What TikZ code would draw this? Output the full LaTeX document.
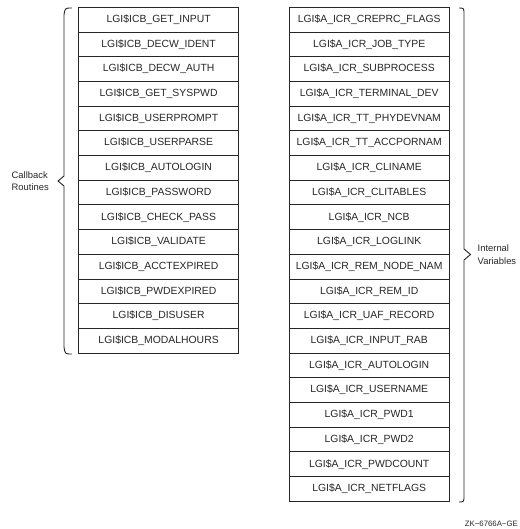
\documentclass[tikz,border=0pt]{standalone}
\usepackage{fontspec}
\setmainfont{Liberation Sans}
\usetikzlibrary{positioning}

\begin{document}
\begin{tikzpicture}[x=1pt, y=-1pt, node distance=0pt,
  font=\fontsize{10.4}{12.5}\selectfont, color=black!85,
  cell/.style={draw, line width=0.9pt, minimum width=160pt, minimum height=24.7pt,
    inner sep=0pt, outer sep=0pt, text=black!85},
  brace/.style={draw, line width=0.9pt, line join=miter},
  side/.style={align=left, inner sep=0pt, text=black!85, font=\fontsize{9.4}{12.5}\selectfont}]
  \useasboundingbox (0,0) rectangle (519,529);
  % callback routines
  \node[cell] (cb1) at (158.6,19.65) {LGI\$ICB\_GET\_INPUT};
  \node[cell, below=of cb1]  (cb2)  {LGI\$ICB\_DECW\_IDENT};
  \node[cell, below=of cb2]  (cb3)  {LGI\$ICB\_DECW\_AUTH};
  \node[cell, below=of cb3]  (cb4)  {LGI\$ICB\_GET\_SYSPWD};
  \node[cell, below=of cb4]  (cb5)  {LGI\$ICB\_USERPROMPT};
  \node[cell, below=of cb5]  (cb6)  {LGI\$ICB\_USERPARSE};
  \node[cell, below=of cb6]  (cb7)  {LGI\$ICB\_AUTOLOGIN};
  \node[cell, below=of cb7]  (cb8)  {LGI\$ICB\_PASSWORD};
  \node[cell, below=of cb8]  (cb9)  {LGI\$ICB\_CHECK\_PASS};
  \node[cell, below=of cb9]  (cb10) {LGI\$ICB\_VALIDATE};
  \node[cell, below=of cb10] (cb11) {LGI\$ICB\_ACCTEXPIRED};
  \node[cell, below=of cb11] (cb12) {LGI\$ICB\_PWDEXPIRED};
  \node[cell, below=of cb12] (cb13) {LGI\$ICB\_DISUSER};
  \node[cell, below=of cb13] (cb14) {LGI\$ICB\_MODALHOURS};
  % internal variables
  \node[cell] (iv1) at (369.2,19.65) {LGI\$A\_ICR\_CREPRC\_FLAGS};
  \node[cell, below=of iv1]  (iv2)  {LGI\$A\_ICR\_JOB\_TYPE};
  \node[cell, below=of iv2]  (iv3)  {LGI\$A\_ICR\_SUBPROCESS};
  \node[cell, below=of iv3]  (iv4)  {LGI\$A\_ICR\_TERMINAL\_DEV};
  \node[cell, below=of iv4]  (iv5)  {LGI\$A\_ICR\_TT\_PHYDEVNAM};
  \node[cell, below=of iv5]  (iv6)  {LGI\$A\_ICR\_TT\_ACCPORNAM};
  \node[cell, below=of iv6]  (iv7)  {LGI\$A\_ICR\_CLINAME};
  \node[cell, below=of iv7]  (iv8)  {LGI\$A\_ICR\_CLITABLES};
  \node[cell, below=of iv8]  (iv9)  {LGI\$A\_ICR\_NCB};
  \node[cell, below=of iv9]  (iv10) {LGI\$A\_ICR\_LOGLINK};
  \node[cell, below=of iv10] (iv11) {LGI\$A\_ICR\_REM\_NODE\_NAM};
  \node[cell, below=of iv11] (iv12) {LGI\$A\_ICR\_REM\_ID};
  \node[cell, below=of iv12] (iv13) {LGI\$A\_ICR\_UAF\_RECORD};
  \node[cell, below=of iv13] (iv14) {LGI\$A\_ICR\_INPUT\_RAB};
  \node[cell, below=of iv14] (iv15) {LGI\$A\_ICR\_AUTOLOGIN};
  \node[cell, below=of iv15] (iv16) {LGI\$A\_ICR\_USERNAME};
  \node[cell, below=of iv16] (iv17) {LGI\$A\_ICR\_PWD1};
  \node[cell, below=of iv17] (iv18) {LGI\$A\_ICR\_PWD2};
  \node[cell, below=of iv18] (iv19) {LGI\$A\_ICR\_PWDCOUNT};
  \node[cell, below=of iv19] (iv20) {LGI\$A\_ICR\_NETFLAGS};
  % braces
  \coordinate (cbtip) at (58,181);
  \coordinate (ivtip) at (470.5,254.5);
  \path[brace] (72,8) .. controls (65,8) .. (64,15) -- (64,176) -- (cbtip)
    -- (64,186) -- (64,347) .. controls (65,354) .. (72,354);
  \path[brace] (459,8) .. controls (464,8) .. (464,15) -- (464,249) -- (ivtip)
    -- (464,260) -- (464,495) .. controls (464,502) .. (459,502);
  \node[side, left=9pt of cbtip]  (cblabel) {Callback\\Routines};
  \node[side, right=7pt of ivtip] (ivlabel) {Internal\\Variables};
  \node[font=\fontsize{7.8}{9}\selectfont, text=black!85, anchor=east, inner sep=0pt]
    (tag) at (518,524) {ZK−6766A−GE};
\end{tikzpicture}
\end{document}
